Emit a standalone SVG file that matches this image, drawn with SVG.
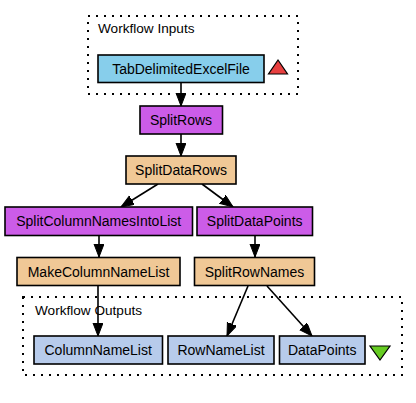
<svg xmlns="http://www.w3.org/2000/svg" width="416" height="403" viewBox="0 0 416 403">
<style>
.bg{fill:#ffffff}
.cluster{fill:none;stroke:#000;stroke-width:2;stroke-dasharray:2,6}
.node rect{stroke:#000;stroke-width:1.6}
.inp{fill:#87ceeb}
.bsh{fill:#cc5ce8}
.loc{fill:#f0c896}
.out{fill:#b7cbeb}
text{font-family:"Liberation Sans",Arial,sans-serif;font-size:14px;fill:#000}
.node text{text-anchor:middle}
.lbl{font-size:13.6px}
.edge{stroke:#000;stroke-width:1.6;fill:none;marker-end:url(#arr)}
</style>
<defs>
<marker id="arr" markerUnits="userSpaceOnUse" markerWidth="14" markerHeight="11" refX="13" refY="5" orient="auto" viewBox="0 0 14 11">
<path d="M0,0 L13,5 L0,10 z" fill="#000" stroke="#000" stroke-width="1"/>
</marker>
</defs>
<rect class="bg" x="0" y="0" width="416" height="403"/>
<g id="cluster_inputs">
<rect class="cluster" x="88" y="16" width="210" height="78"/>
<text class="lbl" x="98" y="33">Workflow Inputs</text>
<polygon points="278,60 268.5,74 287.5,74" fill="#e84040" stroke="#000" stroke-width="1.2"/>
</g>
<g id="cluster_outputs">
<rect class="cluster" x="23" y="297" width="379" height="78"/>
<text class="lbl" x="35" y="315">Workflow Outputs</text>
<polygon points="370,346 390,346 380,360" fill="#66cc22" stroke="#000" stroke-width="1.2"/>
</g>
<g id="edges">
<line class="edge" x1="181" y1="83" x2="181" y2="106"/>
<line class="edge" x1="181" y1="134" x2="181" y2="156"/>
<line class="edge" x1="158" y1="184" x2="121" y2="207"/>
<line class="edge" x1="202" y1="184" x2="233" y2="207"/>
<line class="edge" x1="99" y1="236" x2="99" y2="257"/>
<line class="edge" x1="255" y1="236" x2="255" y2="257"/>
<line class="edge" x1="98" y1="286" x2="98" y2="336"/>
<line class="edge" x1="248" y1="286" x2="227" y2="336"/>
<line class="edge" x1="267" y1="286" x2="312" y2="336"/>
</g>
<g id="TabDelimitedExcelFile" class="node">
<rect class="inp" x="98" y="55" width="166" height="27.5"/>
<text x="181" y="74">TabDelimitedExcelFile</text>
</g>
<g id="SplitRows" class="node">
<rect class="bsh" x="140" y="106" width="82.5" height="28"/>
<text x="181" y="125">SplitRows</text>
</g>
<g id="SplitDataRows" class="node">
<rect class="loc" x="126" y="156" width="110" height="28"/>
<text x="181" y="175">SplitDataRows</text>
</g>
<g id="SplitColumnNamesIntoList" class="node">
<rect class="bsh" x="5" y="207" width="187.5" height="28.5"/>
<text x="98.7" y="226">SplitColumnNamesIntoList</text>
</g>
<g id="SplitDataPoints" class="node">
<rect class="bsh" x="197" y="207" width="115.5" height="28.5"/>
<text x="254.7" y="226">SplitDataPoints</text>
</g>
<g id="MakeColumnNameList" class="node">
<rect class="loc" x="17" y="257.5" width="163" height="28"/>
<text x="98.5" y="276.5">MakeColumnNameList</text>
</g>
<g id="SplitRowNames" class="node">
<rect class="loc" x="194.5" y="257.5" width="120" height="28"/>
<text x="254.5" y="276.5">SplitRowNames</text>
</g>
<g id="ColumnNameList" class="node">
<rect class="out" x="34" y="336" width="128.5" height="28"/>
<text x="98.2" y="355">ColumnNameList</text>
</g>
<g id="RowNameList" class="node">
<rect class="out" x="168" y="336" width="106" height="28"/>
<text x="221" y="355">RowNameList</text>
</g>
<g id="DataPoints" class="node">
<rect class="out" x="279.5" y="336" width="85.5" height="28"/>
<text x="322.2" y="355">DataPoints</text>
</g>
</svg>
